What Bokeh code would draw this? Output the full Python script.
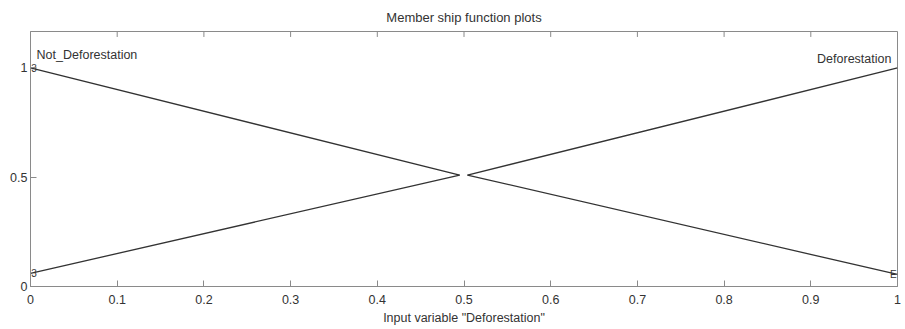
from bokeh.plotting import figure
from bokeh.models import Range1d, FixedTicker, Label
from bokeh.embed import file_html
from bokeh.resources import INLINE
from bokeh.core.properties import value

# data
not_def_x = [0.0, 0.495, float("nan"), 0.504, 1.0]
not_def_y = [1.0, 0.51, float("nan"), 0.51, 0.055]
def_x = [0.0, 0.495, float("nan"), 0.504, 1.0]
def_y = [0.06, 0.51, float("nan"), 0.51, 1.0]
x_ticks = [0, 0.1, 0.2, 0.3, 0.4, 0.5, 0.6, 0.7, 0.8, 0.9, 1]
x_tick_labels = ["0", "0.1", "0.2", "0.3", "0.4", "0.5", "0.6", "0.7", "0.8", "0.9", "1"]
y_ticks = [0, 0.5, 1]
y_tick_labels = ["0", "0.5", "1"]
title_text = "Member ship function plots"
xlabel_text = 'Input variable "Deforestation"'

FONT = "Liberation Sans"
TXT = "#333333"
FRAME = "#8a8a8a"
LINE = "#333333"
Y_MAX = 1.167

p = figure(width=905, height=329, output_backend="svg", toolbar_location=None,
           x_range=Range1d(0, 1), y_range=Range1d(0, Y_MAX),
           min_border_left=30, min_border_right=8, min_border_top=27, min_border_bottom=43)
p.grid.visible = False
p.outline_line_color = FRAME
p.outline_line_width = 1
p.background_fill_color = "white"
p.border_fill_color = "white"

p.title.text = title_text
p.title.align = "center"
p.title.text_font = FONT
p.title.text_font_size = "13px"
p.title.text_font_style = "normal"
p.title.text_color = TXT
p.title.standoff = 14

# bottom axis
xa = p.xaxis[0]
xa.ticker = FixedTicker(ticks=x_ticks)
xa.major_label_overrides = {t: l for t, l in zip(x_ticks, x_tick_labels)}
xa.major_tick_in = 6
xa.major_tick_out = 0
xa.minor_tick_in = 0
xa.minor_tick_out = 0
xa.axis_line_color = FRAME
xa.major_tick_line_color = FRAME
xa.major_label_text_font = FONT
xa.major_label_text_font_size = "12.5px"
xa.major_label_text_color = TXT
xa.major_label_standoff = 8
xa.axis_label = xlabel_text
xa.axis_label_text_font = FONT
xa.axis_label_text_font_size = "12.5px"
xa.axis_label_text_font_style = "normal"
xa.axis_label_text_color = TXT
xa.axis_label_standoff = 4

# left axis
ya = p.yaxis[0]
ya.ticker = FixedTicker(ticks=y_ticks)
ya.major_label_overrides = {t: l for t, l in zip(y_ticks, y_tick_labels)}
ya.major_tick_in = 6
ya.major_tick_out = 0
ya.minor_tick_in = 0
ya.minor_tick_out = 0
ya.axis_line_color = FRAME
ya.major_tick_line_color = FRAME
ya.major_label_text_font = FONT
ya.major_label_text_font_size = "12.5px"
ya.major_label_text_color = TXT
ya.major_label_standoff = 3

# inward ticks along the top edge, at the x tick positions
p.segment(x0=x_ticks, x1=x_ticks, y0=[Y_MAX] * len(x_ticks),
          y1=[Y_MAX - 0.025] * len(x_ticks), line_color=FRAME, line_width=1)

# membership lines
p.line(not_def_x, not_def_y, line_color=LINE, line_width=1.3)
p.line(def_x, def_y, line_color=LINE, line_width=1.3)

# endpoint glyphs
p.text(x=[0.001, 0.001], y=[not_def_y[0], def_y[0]], text=["3", "3"],
       text_font=value(FONT), text_font_size="10px", text_color=TXT,
       text_align="left", text_baseline="middle")
p.text(x=[0.999], y=[not_def_y[-1]], text=["E"],
       text_font=value(FONT), text_font_size="10px", text_color=TXT,
       text_align="right", text_baseline="middle")

# function names
p.add_layout(Label(x=0.007, y=1.06, text="Not_Deforestation", text_font=FONT,
                   text_font_size="12.5px", text_color=TXT, text_baseline="middle"))
p.add_layout(Label(x=0.993, y=1.04, text="Deforestation", text_font=FONT,
                   text_font_size="12.5px", text_color=TXT, text_baseline="middle",
                   text_align="right"))

open("out.html", "w").write(file_html(p, INLINE))
